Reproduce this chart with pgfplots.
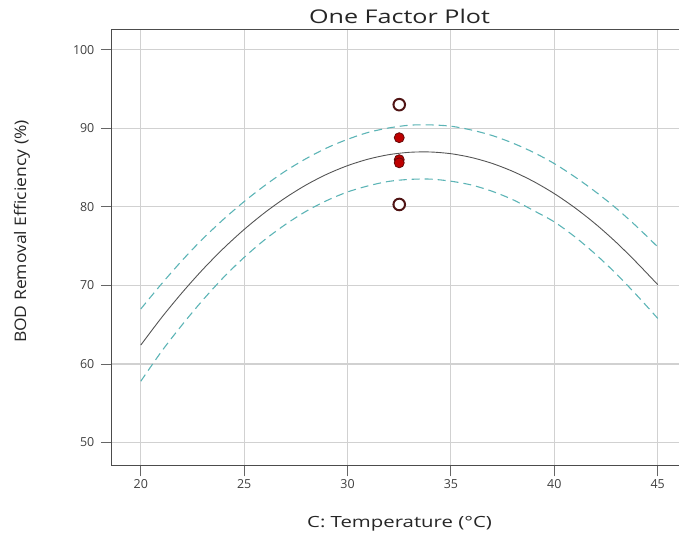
\documentclass[border=0pt]{standalone}
\usepackage{fontspec}
\setmainfont{Open Sans}
\usepackage{pgfplots}
\pgfplotsset{compat=1.18}
\definecolor{bandc}{RGB}{92,180,182}
\definecolor{fitc}{RGB}{85,85,85}
\definecolor{ptfill}{RGB}{190,0,0}
\definecolor{ptedge}{RGB}{100,10,10}
\definecolor{opedge}{RGB}{80,20,20}
\begin{document}
\begin{tikzpicture}
\begin{axis}[name=ax, scale only axis, width=568bp, height=436.7bp,
  xmin=18.6, xmax=46.03, ymin=47.1, ymax=102.6,
  axis line style={draw=black!70, line width=0.9pt},
  xtick={20,25,...,45}, ytick={50,60,...,100},
  xtick pos=left, ytick pos=left,
  tick align=outside, major tick length=11bp,
  tick style={draw=black!60, line width=0.9pt},
  grid=major, major grid style={draw=black!18, line width=1.1pt},
  /pgf/number format/assume math mode=true,
  ticklabel style={font=\fontsize{12.5}{13}\selectfont, text=black!75},
  yticklabel style={xshift=-3bp},
  title={One Factor Plot},
  title style={at={(axis description cs:0.5073,1)}, anchor=center, yshift=7bp,
    font=\fontsize{19}{20}\selectfont, xscale=1.33, text=black!85},
  xlabel={C: Temperature (°C)},
  xlabel style={at={(axis description cs:0.5073,0)}, anchor=center, yshift=-59bp,
    font=\fontsize{15.5}{16}\selectfont, xscale=1.32, text=black!85},
  ylabel={BOD Removal Efficiency (\%)},
  ylabel style={at={(axis description cs:-0.1585,0.536)}, anchor=center,
    font=\fontsize{16}{17}\selectfont, xscale=1.1, text=black!85},
]
\addplot[color=fitc, line width=0.9pt, smooth] coordinates {
(20,62.40) (21,65.88) (22,69.08) (23,72.03) (24,74.71) (25,77.12) (26,79.27)
(27,81.16) (28,82.79) (29,84.15) (30,85.24) (31,86.07) (32,86.64) (33,86.94)
(34,86.98) (35,86.76) (36,86.27) (37,85.52) (38,84.50) (39,83.22) (40,81.68)
(41,79.87) (42,77.80) (43,75.46) (44,72.86) (45,70.10)};
\addplot[color=bandc, line width=1.1pt, dash pattern=on 8bp off 5bp, smooth] coordinates {
(20,67.00) (21,70.18) (22,73.18) (23,75.93) (24,78.41) (25,80.67) (26,82.72)
(27,84.56) (28,86.14) (29,87.50) (30,88.59) (31,89.47) (32,90.04) (33,90.39)
(34,90.43) (35,90.26) (36,89.77) (37,89.07) (38,88.10) (39,86.92) (40,85.50)
(41,83.80) (42,81.90) (43,79.80) (44,77.45) (45,74.90)};
\addplot[color=bandc, line width=1.1pt, dash pattern=on 8bp off 5bp, smooth] coordinates {
(20,57.80) (21,61.58) (22,64.98) (23,68.13) (24,71.01) (25,73.57) (26,75.82)
(27,77.76) (28,79.44) (29,80.80) (30,81.89) (31,82.67) (32,83.24) (33,83.49)
(34,83.53) (35,83.26) (36,82.77) (37,81.97) (38,80.90) (39,79.52) (40,78.08)
(41,76.17) (42,73.95) (43,71.46) (44,68.71) (45,65.80)};
\addplot[only marks, mark=*, mark size=5.8bp,
  mark options={draw=opedge, fill=white, line width=2pt}] coordinates {
(32.5,93.0) (32.5,80.3)};
\addplot[only marks, mark=*, mark size=5bp,
  mark options={draw=ptedge, fill=ptfill, line width=0.8pt}] coordinates {
(32.5,88.8) (32.5,86.0) (32.5,85.6)};
\end{axis}
\pgfresetboundingbox
\path (ax.south west) ++(-112bp,-69bp) coordinate (bl);
\path (ax.north east) ++(-1.2bp,29.3bp) coordinate (tr);
\path[use as bounding box] (bl) rectangle (tr);
\end{tikzpicture}
\end{document}
